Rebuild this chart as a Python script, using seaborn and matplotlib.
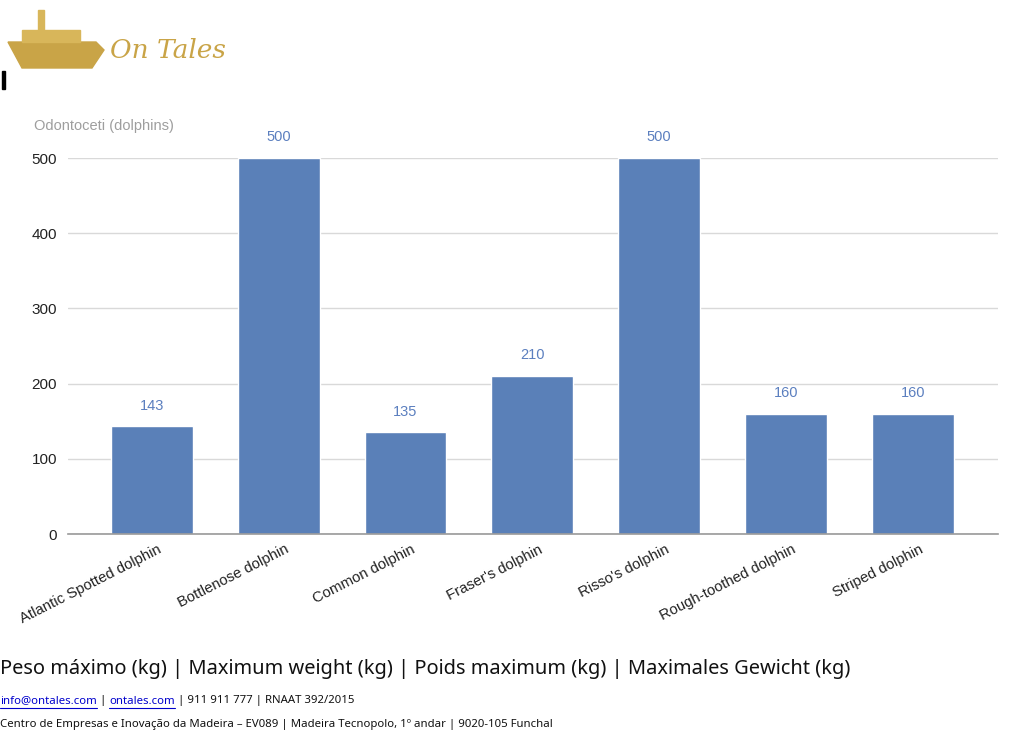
import matplotlib
matplotlib.use("Agg")
import matplotlib.pyplot as plt
import matplotlib.transforms as mtransforms
from matplotlib.patches import Polygon, Rectangle
import seaborn as sns
import pandas as pd

species = ["Atlantic Spotted dolphin", "Bottlenose dolphin", "Common dolphin",
           "Fraser's dolphin", "Risso's dolphin", "Rough-toothed dolphin",
           "Striped dolphin"]
max_weight = [143, 500, 135, 210, 500, 160, 160]
y_ticks = [0, 100, 200, 300, 400, 500]

chart_title = "Odontoceti (dolphins)"
caption = "Peso máximo (kg) | Maximum weight (kg) | Poids maximum (kg) | Maximales Gewicht (kg)"

bar_color = "#5a80b8"
label_color = "#5b7fbf"

sns.set_theme(style="white")
plt.rcParams["font.family"] = ["Liberation Sans", "DejaVu Sans"]

df = pd.DataFrame({"species": species, "weight": max_weight})

W, H = 1024, 745
fig = plt.figure(figsize=(W / 100, H / 100), dpi=100)
ax = fig.add_axes([68 / W, 1 - 534 / H, 930 / W, 376 / H])

sns.barplot(data=df, x="species", y="weight", color=bar_color, width=0.646,
            saturation=1, ax=ax)
ax.set_xlim(-0.66, 6.67)
ax.set_ylim(0, 500)
ax.set_yticks(y_ticks)
ax.yaxis.grid(True, color="#d9d9d9", linewidth=1)
ax.set_axisbelow(True)
for s in ["top", "right", "left"]:
    ax.spines[s].set_visible(False)
ax.spines["bottom"].set_color("#999999")
ax.spines["bottom"].set_linewidth(1.2)
ax.spines["bottom"].set_zorder(5)
ax.set_xlabel("")
ax.set_ylabel("")
ax.tick_params(axis="y", length=0, pad=8, labelsize=11, labelcolor="#222222")
ax.tick_params(axis="x", length=0, pad=6, labelsize=10.7, labelcolor="#222222")
shift = mtransforms.ScaledTranslation(6 / 100, 0, fig.dpi_scale_trans)
for lab in ax.get_xticklabels():
    lab.set_rotation(27)
    lab.set_ha("right")
    lab.set_rotation_mode("anchor")
    lab.set_transform(lab.get_transform() + shift)

for i, v in enumerate(max_weight):
    ax.annotate(str(v), (i, v), xytext=(0, 10), textcoords="offset points",
                ha="center", va="bottom", fontsize=10.5, color=label_color,
                annotation_clip=False)

fig.text(34 / W, 1 - 126 / H, chart_title, fontsize=10.5, color="#9e9e9e",
         va="center", ha="left")

# logo (rough): gold ship + script name
gold = "#c9a447"
fig.patches.append(Polygon([[8 / W, 1 - 42 / H], [96 / W, 1 - 42 / H], [104 / W, 1 - 50 / H],
                            [92 / W, 1 - 68 / H], [22 / W, 1 - 68 / H]],
                           closed=True, transform=fig.transFigure, color=gold))
fig.patches.append(Rectangle((22 / W, 1 - 42 / H), 58 / W, 12 / H,
                             transform=fig.transFigure, color="#d8b65a"))
fig.patches.append(Rectangle((38 / W, 1 - 30 / H), 6 / W, 20 / H,
                             transform=fig.transFigure, color="#d8b65a"))
fig.text(110 / W, 1 - 50 / H, "On Tales", fontsize=19, style="italic",
         color=gold, family=["DejaVu Serif"], va="center", ha="left")
fig.patches.append(Rectangle((2 / W, 1 - 89 / H), 2.5 / W, 18 / H,
                             transform=fig.transFigure, color="black"))

fig.text(0, 1 - 669 / H, caption, fontsize=14.4, family=["Noto Sans", "DejaVu Sans"],
         color="#111111", va="center", ha="left")

# footer line 1 with underlined links
fig.canvas.draw()
renderer = fig.canvas.get_renderer()
parts = [("info@ontales.com", True), (" | ", False), ("ontales.com", True),
         (" | 911 911 777 | RNAAT 392/2015", False)]
x = 0
y = 1 - 701 / H
for txt, link in parts:
    t = fig.text(x, y, txt, fontsize=8.2, family=["Noto Sans", "DejaVu Sans"],
                 color="#0000cc" if link else "#111111", va="center", ha="left")
    bb = t.get_window_extent(renderer).transformed(fig.transFigure.inverted())
    if link:
        fig.add_artist(plt.Line2D([bb.x0, bb.x1], [y - 7 / H, y - 7 / H],
                                  color="#0000cc", linewidth=0.8))
    x = bb.x1

fig.text(0, 1 - 725 / H,
         "Centro de Empresas e Inovação da Madeira – EV089 | Madeira Tecnopolo, 1º andar | 9020-105 Funchal",
         fontsize=8.2, family=["Noto Sans", "DejaVu Sans"], color="#111111",
         va="center", ha="left")

fig.savefig("out.png", dpi=100, facecolor="white")
